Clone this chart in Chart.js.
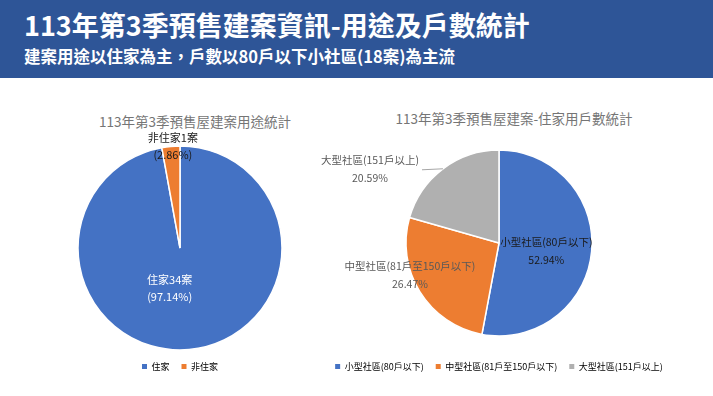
<!DOCTYPE html>
<html>
<head>
<meta charset="utf-8">
<script src="https://cdn.jsdelivr.net/npm/chart.js@4.4.1/dist/chart.umd.min.js"></script>
<style>
  body { margin: 0; width: 713px; height: 396px; background: #fff; overflow: hidden;
         font-family: "Noto Sans CJK TC", "Noto Sans", sans-serif; position: relative; }
  .banner { position: absolute; left: 0; top: 0; width: 713px; height: 78px; background: #2E5597; }
  .title { position: absolute; left: 24px; top: 11px; color: #fff; font-size: 27px; font-weight: bold; line-height: 28px; white-space: nowrap; }
  .subtitle { position: absolute; left: 24px; top: 47px; color: #fff; font-size: 16.5px; font-weight: bold; line-height: 18px; white-space: nowrap; }
  .ctitle { position: absolute; width: 300px; text-align: center; color: #757575; font-size: 13.5px; line-height: 16px; white-space: nowrap; }
  .box { position: absolute; top: 96px; height: 294px; }
</style>
</head>
<body>
<div class="banner"></div>
<div class="title">113年第3季預售建案資訊-用途及戶數統計</div>
<div class="subtitle">建案用途以住家為主，戶數以80戶以下小社區(18案)為主流</div>

<div class="ctitle" style="left:45px; top:113px;">113年第3季預售屋建案用途統計</div>
<div class="ctitle" style="left:364px; top:110px;">113年第3季預售屋建案-住家用戶數統計</div>

<div class="box" style="left:30px; width:300px;"><canvas id="useChart"></canvas></div>
<div class="box" style="left:280px; width:438px;"><canvas id="sizeChart"></canvas></div>

<script>
// Data Setup
const useLabels = ['住家', '非住家'];
const useCounts = [34, 1];
const sizeLabels = ['小型社區(80戶以下)', '中型社區(81戶至150戶以下)', '大型社區(151戶以上)'];
const sizeCounts = [18, 9, 7];

const blue = '#4472C4', orange = '#ED7D31', grey = '#B0B0B0';
const fontFamily = '"Noto Sans CJK TC", "Noto Sans", sans-serif';

function pct(values, i) {
  const total = values.reduce((a, b) => a + b, 0);
  return (values[i] / total * 100).toFixed(2);
}

// draws the slice labels next to each arc
const sliceLabels = {
  id: 'sliceLabels',
  afterDatasetsDraw(chart, args, opts) {
    const ctx = chart.ctx;
    const meta = chart.getDatasetMeta(0);
    meta.data.forEach((arc, i) => {
      const p = opts.place[i];
      const mid = (arc.startAngle + arc.endAngle) / 2;
      const r = arc.outerRadius;
      const cx = arc.x + Math.cos(mid) * r * p.f + p.dx;
      const cy = arc.y + Math.sin(mid) * r * p.f + p.dy;
      const lines = opts.text(i);
      ctx.save();
      ctx.font = opts.size + 'px ' + fontFamily;
      ctx.textAlign = 'center';
      ctx.textBaseline = 'middle';
      ctx.fillStyle = p.color;
      const top = cy - (lines.length - 1) * opts.lineH / 2;
      lines.forEach((t, k) => ctx.fillText(t, cx, top + k * opts.lineH));
      if (p.leader) {
        const w = ctx.measureText(lines[0]).width;
        ctx.strokeStyle = '#A6A6A6';
        ctx.lineWidth = 1;
        ctx.beginPath();
        ctx.moveTo(cx + w / 2 + 3, cy + 1);
        ctx.lineTo(arc.x + Math.cos(mid) * r, arc.y + Math.sin(mid) * r);
        ctx.stroke();
      }
      ctx.restore();
    });
  }
};

const legendOpts = {
  position: 'bottom',
  labels: {
    boxWidth: 5, boxHeight: 5, padding: 12, color: '#7f7f7f',
    font: { size: 9, family: fontFamily },
    generateLabels(chart) {
      const ds = chart.data.datasets[0];
      return chart.data.labels.map((l, i) => ({
        text: l, fillStyle: ds.backgroundColor[i], strokeStyle: ds.backgroundColor[i],
        lineWidth: 0, index: i, hidden: false
      }));
    }
  }
};

new Chart(document.getElementById('useChart'), {
  type: 'pie',
  data: {
    labels: useLabels,
    datasets: [{
      data: useCounts,
      backgroundColor: [blue, orange],
      borderColor: '#fff',
      borderWidth: 1.5,
      radius: 102
    }]
  },
  options: {
    responsive: true,
    maintainAspectRatio: false,
    animation: false,
    layout: { padding: { top: 50, bottom: 9 } },
    plugins: {
      legend: legendOpts,
      tooltip: { enabled: false },
      sliceLabels: {
        size: 11, lineH: 17,
        text: i => [useLabels[i] + useCounts[i] + '案', '(' + pct(useCounts, i) + '%)'],
        place: [
          { f: 0.4, dx: -14, dy: 0, color: '#fff' },
          { f: 1.0, dx: 2, dy: 0, color: '#1a1a1a' }
        ]
      }
    }
  },
  plugins: [sliceLabels]
});

new Chart(document.getElementById('sizeChart'), {
  type: 'pie',
  data: {
    labels: sizeLabels,
    datasets: [{
      data: sizeCounts,
      backgroundColor: [blue, orange, grey],
      borderColor: '#fff',
      borderWidth: 1.5,
      radius: 93
    }]
  },
  options: {
    responsive: true,
    maintainAspectRatio: false,
    animation: false,
    layout: { padding: { top: 40, bottom: 9 } },
    plugins: {
      legend: legendOpts,
      tooltip: { enabled: false },
      sliceLabels: {
        size: 10.5, lineH: 18,
        text: i => [sizeLabels[i], pct(sizeCounts, i) + '%'],
        place: [
          { f: 0.5, dx: 1, dy: 4, color: '#1a1a1a' },
          { f: 1.0, dx: -10, dy: -17, color: '#595959' },
          { f: 1.0, dx: -73, dy: 0, color: '#595959', leader: true }
        ]
      }
    }
  },
  plugins: [sliceLabels]
});
</script>
</body>
</html>
